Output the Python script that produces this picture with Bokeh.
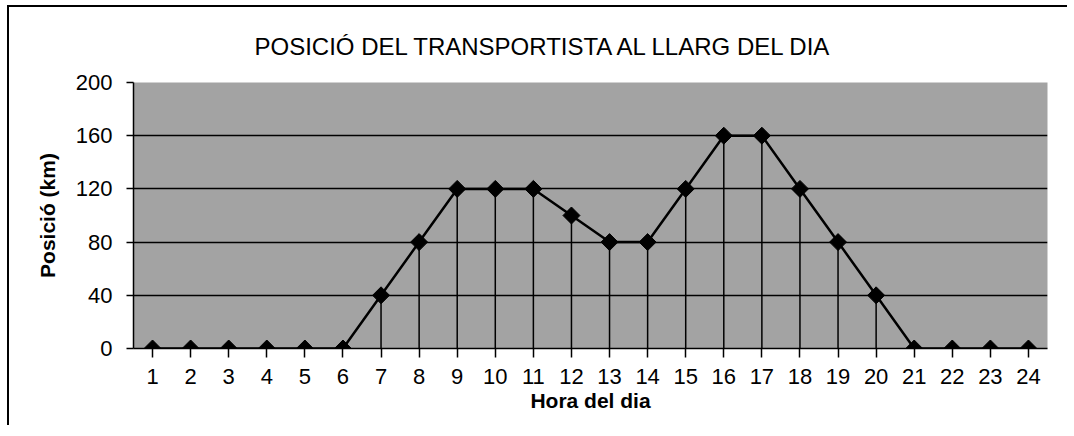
from bokeh.plotting import figure
from bokeh.models import FactorRange, Range1d, FixedTicker, ColumnDataSource, Title
from bokeh.embed import file_html
from bokeh.resources import INLINE

# Data
hours = [str(h) for h in range(1, 25)]
position_km = [0, 0, 0, 0, 0, 0, 40, 80, 120, 120, 120, 100,
               80, 80, 120, 160, 160, 120, 80, 40, 0, 0, 0, 0]
y_ticks = [0, 40, 80, 120, 160, 200]
title_text = "POSICIÓ DEL TRANSPORTISTA AL LLARG DEL DIA"
x_label = "Hora del dia"
y_label = "Posició (km)"

src = ColumnDataSource(dict(x=hours, y=position_km, y0=[0] * len(hours)))

p = figure(width=1060, height=420, x_range=FactorRange(*hours, range_padding=0),
           y_range=Range1d(0, 200), output_backend="svg", toolbar_location=None,
           min_border_left=124, min_border_right=22, min_border_top=75,
           min_border_bottom=79)
p.margin = (5, 0, 0, 7)
p.styles = {"border-top": "2px solid black", "border-left": "2px solid black"}

p.border_fill_color = "white"
p.outline_line_color = None
p.background_fill_color = "#a3a3a3"

# title
p.title = Title(text=title_text, align="left", offset=121, standoff=44,
                vertical_align="middle",
                text_font="Liberation Sans", text_font_size="24px",
                text_font_style="normal", text_color="black")

# grid
p.xgrid.grid_line_color = None
p.ygrid.ticker = FixedTicker(ticks=y_ticks)
p.ygrid.grid_line_color = "black"
p.ygrid.grid_line_width = 1.5
p.ygrid.grid_line_alpha = 1.0

# axes
p.yaxis.ticker = FixedTicker(ticks=y_ticks)
for ax in (p.xaxis[0], p.yaxis[0]):
    ax.axis_line_color = "black"
    ax.axis_line_width = 1.5
    ax.major_tick_line_color = "black"
    ax.major_tick_line_width = 1.5
    ax.major_tick_in = 0
    ax.minor_tick_line_color = None
    ax.major_label_text_font = "Liberation Sans"
    ax.major_label_text_font_size = "22px"
    ax.major_label_text_color = "black"
    ax.axis_label_text_font = "Liberation Sans"
    ax.axis_label_text_font_size = "21px"
    ax.axis_label_text_font_style = "bold"
    ax.axis_label_text_color = "black"

p.xaxis.axis_label = x_label
p.yaxis.axis_label = y_label
p.yaxis.major_tick_out = 7
p.xaxis.major_tick_out = 9
p.yaxis.major_label_standoff = 14
p.xaxis.major_label_standoff = 11
p.yaxis.axis_label_standoff = 14
p.xaxis.axis_label_standoff = 2

# drop lines
p.segment(x0="x", y0="y0", x1="x", y1="y", source=src, line_color="black", line_width=1.5)
# series line
p.line(x="x", y="y", source=src, line_color="black", line_width=2.5)
# markers
p.scatter(x="x", y="y", source=src, marker="square", angle=0.785398, size=12,
          fill_color="black", line_color="black")

open("out.html", "w").write(file_html(p, INLINE))
